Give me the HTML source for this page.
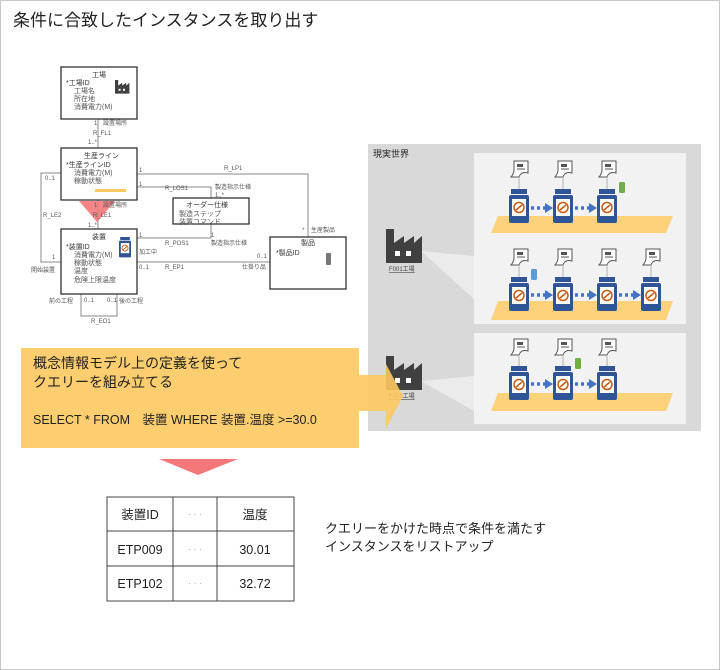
<!DOCTYPE html>
<html><head><meta charset="utf-8"><style>
body{margin:0;background:#fff}
#c{position:relative;width:718px;height:668px;border:1px solid #c8c8c8;overflow:hidden;font-family:"Liberation Sans","Noto Sans CJK JP",sans-serif}
svg text{font-family:"Liberation Sans","Noto Sans CJK JP",sans-serif}
</style></head><body><div id="c">
<svg width="718" height="668" viewBox="0 0 718 668" xmlns="http://www.w3.org/2000/svg">
<defs>
<g id="eq">
<rect x="2" y="0" width="16" height="5" fill="#2f5597"/>
<rect x="0" y="6" width="20" height="28" rx="2" fill="#2f5597"/>
<rect x="3" y="10" width="14" height="17" fill="#fff"/>
<circle cx="10" cy="18.5" r="5" fill="none" stroke="#c55a11" stroke-width="1.5"/>
<line x1="7" y1="21" x2="13" y2="16" stroke="#c55a11" stroke-width="1.5"/>
</g>
<g id="doc">
<path d="M3 0 H17 V12 Q10 10 8 16 H0 Q2 14 3 10 Z" fill="#fff" stroke="#555" stroke-width="1"/>
<rect x="6" y="3" width="6" height="3" fill="#555"/>
<line x1="6" y1="8" x2="14" y2="8" stroke="#555"/>
</g>
<g id="fac">
<path d="M0 34 V0 H8 V14 L18 7 V14 L28 7 V14 L36 7 V34 Z" fill="#404040"/>
<rect x="9" y="22" width="5" height="5" fill="#fff"/><rect x="20" y="22" width="5" height="5" fill="#fff"/>
</g>
</defs>
<text x="12" y="25" font-size="17" fill="#222">条件に合致したインスタンスを取り出す</text>

<!-- right panel -->
<rect x="367" y="143" width="333" height="287" fill="#d9d9d9"/>
<text x="372" y="156" font-size="9" fill="#222">現実世界</text>
<polygon points="420,250 473,255 473,298" fill="#ebebeb"/>
<polygon points="420,380 473,375 473,410" fill="#ebebeb"/>
<rect x="473" y="152" width="212" height="171" fill="#f2f2f2"/>
<rect x="473" y="332" width="212" height="91" fill="#f2f2f2"/>
<polygon points="497,215 672,215 665,232 490,232" fill="#fdd27a"/>
<polygon points="497,300 672,300 665,319 490,319" fill="#fdd27a"/>
<polygon points="497,392 672,392 665,410 490,410" fill="#fdd27a"/>
<g stroke="#4472c4" stroke-width="3.5" stroke-dasharray="3,3" fill="#4472c4">
<line x1="530" y1="207" x2="548" y2="207"/><line x1="574" y1="207" x2="592" y2="207"/>
<line x1="530" y1="294" x2="548" y2="294"/><line x1="574" y1="294" x2="592" y2="294"/><line x1="618" y1="294" x2="636" y2="294"/>
<line x1="530" y1="383" x2="548" y2="383"/><line x1="574" y1="383" x2="592" y2="383"/>
</g>
<g fill="#4472c4">
<polygon points="544,202 552,207 544,212"/><polygon points="588,202 596,207 588,212"/>
<polygon points="544,289 552,294 544,299"/><polygon points="588,289 596,294 588,299"/><polygon points="632,289 640,294 632,299"/>
<polygon points="544,378 552,383 544,388"/><polygon points="588,378 596,383 588,388"/>
</g>
<g stroke="#999" stroke-width="0.7">
<line x1="518" y1="177" x2="518" y2="188"/><line x1="562" y1="177" x2="562" y2="188"/><line x1="606" y1="177" x2="606" y2="188"/>
<line x1="518" y1="265" x2="518" y2="276"/><line x1="562" y1="265" x2="562" y2="276"/><line x1="606" y1="265" x2="606" y2="276"/><line x1="650" y1="265" x2="650" y2="276"/>
<line x1="518" y1="355" x2="518" y2="365"/><line x1="562" y1="355" x2="562" y2="365"/><line x1="606" y1="355" x2="606" y2="365"/>
</g>
<use href="#doc" x="510" y="160"/><use href="#doc" x="554" y="160"/><use href="#doc" x="598" y="160"/>
<use href="#doc" x="510" y="248"/><use href="#doc" x="554" y="248"/><use href="#doc" x="598" y="248"/><use href="#doc" x="642" y="248"/>
<use href="#doc" x="510" y="338"/><use href="#doc" x="554" y="338"/><use href="#doc" x="598" y="338"/>
<use href="#eq" x="508" y="188"/><use href="#eq" x="552" y="188"/><use href="#eq" x="596" y="188"/>
<use href="#eq" x="508" y="276"/><use href="#eq" x="552" y="276"/><use href="#eq" x="596" y="276"/><use href="#eq" x="640" y="276"/>
<use href="#eq" x="508" y="365"/><use href="#eq" x="552" y="365"/><use href="#eq" x="596" y="365"/>
<rect x="618" y="181" width="6" height="11" rx="1.5" fill="#70ad47"/>
<rect x="530" y="268" width="6" height="11" rx="1.5" fill="#5b9bd5"/>
<rect x="574" y="357" width="6" height="11" rx="1.5" fill="#70ad47"/>
<use href="#fac" x="385" y="228"/><text x="388" y="270" font-size="6" fill="#444" text-decoration="underline">F001工場</text>
<use href="#fac" x="385" y="355"/><text x="388" y="397" font-size="6" fill="#444" text-decoration="underline">F002工場</text>

<!-- callout -->
<polygon points="20,347 358,347 358,374 385,374 385,363 402,395 385,428 385,410 358,410 358,447 20,447" fill="#fcc960" opacity="0.9"/>
<text x="32" y="367" font-size="14" fill="#222">概念情報モデル上の定義を使って</text>
<text x="32" y="386" font-size="14" fill="#222">クエリーを組み立てる</text>
<text x="32" y="423" font-size="12.5" fill="#222">SELECT * FROM　装置 WHERE 装置.温度 &gt;=30.0</text>
<polygon points="158,458 237,458 197,474" fill="#f4787a"/>

<!-- table -->
<g stroke="#444" stroke-width="1" fill="none">
<rect x="106" y="496" width="187" height="104"/>
<line x1="106" y1="530" x2="293" y2="530"/><line x1="106" y1="565" x2="293" y2="565"/>
<line x1="172" y1="496" x2="172" y2="600"/><line x1="216" y1="496" x2="216" y2="600"/>
</g>
<g font-size="12.5" fill="#222" text-anchor="middle">
<text x="139" y="518">装置ID</text><text x="254" y="518">温度</text>
<text x="139" y="553">ETP009</text><text x="254" y="553">30.01</text>
<text x="139" y="587">ETP102</text><text x="254" y="587">32.72</text>
<text x="194" y="516" fill="#aaa" font-size="9">· · ·</text><text x="194" y="551" fill="#aaa" font-size="9">· · ·</text><text x="194" y="585" fill="#aaa" font-size="9">· · ·</text>
</g>
<text x="324" y="532" font-size="13" fill="#222">クエリーをかけた時点で条件を満たす</text>
<text x="324" y="550" font-size="13" fill="#222">インスタンスをリストアップ</text>

<!-- ER diagram -->
<g stroke="#888" stroke-width="1" fill="none">
<line x1="97" y1="118" x2="97" y2="147"/>
<polyline points="136,173 307,173 307,236"/>
<polyline points="136,186 210,186 210,197"/>
<polyline points="136,237 210,237 210,223"/>
<line x1="136" y1="261" x2="269" y2="261"/>
<polyline points="60,172 40,172 40,261 60,261"/>
<polyline points="80,293 80,315 116,315 116,293"/>
<line x1="97" y1="199" x2="97" y2="228"/>
</g>
<polygon points="78,200 114,200 96,221" fill="#f4787a" opacity="0.9"/>
<g fill="#fff" stroke="#333" stroke-width="1.3">
<rect x="60" y="66" width="76" height="52"/>
<rect x="60" y="147" width="76" height="52"/>
<rect x="60" y="228" width="76" height="65"/>
<rect x="172" y="197" width="76" height="26"/>
<rect x="269" y="236" width="76" height="52"/>
</g>
<rect x="94" y="188" width="31" height="3" fill="#fcc960"/>
<use href="#fac" x="114" y="79" transform="translate(114 79) scale(0.4) translate(-114 -79)"/>
<g transform="translate(118 236) scale(0.6)"><use href="#eq"/></g>
<rect x="325" y="252" width="5" height="12" rx="1" fill="#777"/>
<g font-size="7" fill="#555">
<text x="91" y="76" fill="#333">工場</text>
<text x="65" y="84" fill="#333">*工場ID</text><text x="73" y="92">工場名</text><text x="73" y="100">所在地</text><text x="73" y="108">消費電力(M)</text>
<text x="83" y="157" fill="#333">生産ライン</text>
<text x="65" y="166" fill="#333">*生産ラインID</text><text x="73" y="174">消費電力(M)</text><text x="73" y="182">稼動状態</text>
<text x="91" y="238" fill="#333">装置</text>
<text x="65" y="248" fill="#333">*装置ID</text><text x="73" y="256">消費電力(M)</text><text x="73" y="264">稼動状態</text><text x="73" y="272">温度</text><text x="73" y="281">危険上限温度</text>
<text x="185" y="206" fill="#333">オーダー仕様</text><text x="178" y="215">製造ステップ</text><text x="178" y="223">装置コマンド</text>
<text x="300" y="244" fill="#333">製品</text><text x="275" y="254" fill="#333">*製品ID</text>
<g font-size="6">
<text x="93" y="124">1</text><text x="102" y="124">設置場所</text><text x="92" y="134">R_FL1</text><text x="87" y="143">1..*</text>
<text x="93" y="206">1</text><text x="102" y="206">設置場所</text><text x="92" y="216">R_LE1</text><text x="87" y="226">1..*</text>
<text x="138" y="171">1</text><text x="223" y="169">R_LP1</text>
<text x="138" y="185">1</text><text x="164" y="189">R_LOS1</text><text x="214" y="188">製造指示仕様</text><text x="214" y="196">1..*</text>
<text x="138" y="236">1</text><text x="164" y="244">R_POS1</text><text x="210" y="236">1</text><text x="210" y="244">製造指示仕様</text>
<text x="301" y="231">*</text><text x="310" y="231">生産製品</text>
<text x="138" y="253">加工中</text><text x="256" y="257">0..1</text>
<text x="138" y="268">0..1</text><text x="164" y="268">R_EP1</text><text x="241" y="268">仕掛り品</text>
<text x="44" y="179">0..1</text><text x="42" y="216">R_LE2</text><text x="51" y="258">1</text><text x="30" y="271">開始装置</text>
<text x="48" y="302">前の工程</text><text x="83" y="301">0..1</text><text x="106" y="301">0..1</text><text x="118" y="302">後の工程</text><text x="90" y="322">R_EO1</text>
</g>
</g>
</svg>
</div></body></html>
